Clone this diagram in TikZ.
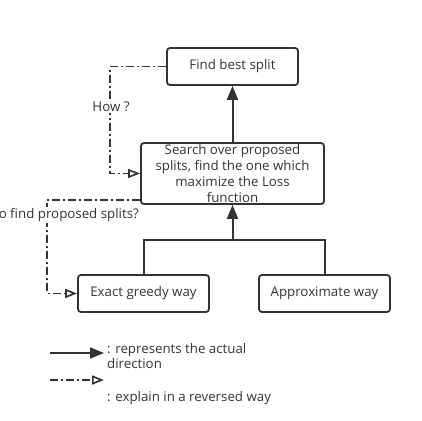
\documentclass[tikz,border=0pt]{standalone}
\usepackage{fontspec}
\setmainfont{Open Sans}
\usetikzlibrary{arrows.meta}
\definecolor{ink}{HTML}{333333}
\tikzset{
  box/.style={draw=ink, line width=1.8pt, rounded corners=3pt, minimum width=131pt,
    minimum height=37pt, inner sep=0pt, align=center, text=ink,
    font=\fontsize{13.3}{15.7}\selectfont},
  lbl/.style={text=ink, inner sep=1pt, font=\fontsize{13.3}{15.5}\selectfont},
  flow/.style={draw=ink, line width=2pt, -{Triangle[length=14pt,width=11pt]}},
  explain/.style={draw=ink, line width=1.7pt, dash pattern=on 8pt off 3pt on 2pt off 3pt,
    -{Triangle[open,length=12pt,width=9pt]}},
}
\begin{document}
\begin{tikzpicture}[x=1pt,y=-1pt]
\useasboundingbox (0,0) rectangle (422,420);

\node[box] (best) at (232.5,66.5) {Find best split};
\node[box, minimum width=183pt, minimum height=61pt] (search) at (232.5,173.5)
  {Search over proposed\\splits, find the one which\\maximize the Loss\\function};
\node[box] (greedy) at (143.5,293.5) {Exact greedy way};
\node[box] (approx) at (324.5,293.5) {Approximate way};

\coordinate (join) at (232.5,240);
\draw[flow] (search) -- (best);
\draw[draw=ink, line width=2pt] (greedy.north) |- (approx.north |- join) -- (approx.north);
\draw[flow] (join) -- (search);

\draw[explain] (best.west) -- ++(-56,0) |- (search.west);
\node[lbl, fill=white] (how) at (111,107) {How ?};
\draw[explain] ([yshift=-26.5pt]search.west) -- ++(-93,0) |- (greedy.west);
\node[lbl, fill=white, anchor=east] (findhow) at (140,215) {How to find proposed splits?};

\coordinate (solida) at (50,353);
\coordinate (solidb) at (104,353);
\coordinate (dasha) at (50,380);
\coordinate (dashb) at (104,380);
\draw[flow] (solida) -- (solidb);
\node[lbl, anchor=north west, align=left] (solidtext) at (106,342) {: represents the actual\\direction};
\draw[explain] (dasha) -- (dashb);
\node[lbl, anchor=west] (dashtext) at (106,398) {: explain in a reversed way};
\end{tikzpicture}
\end{document}
